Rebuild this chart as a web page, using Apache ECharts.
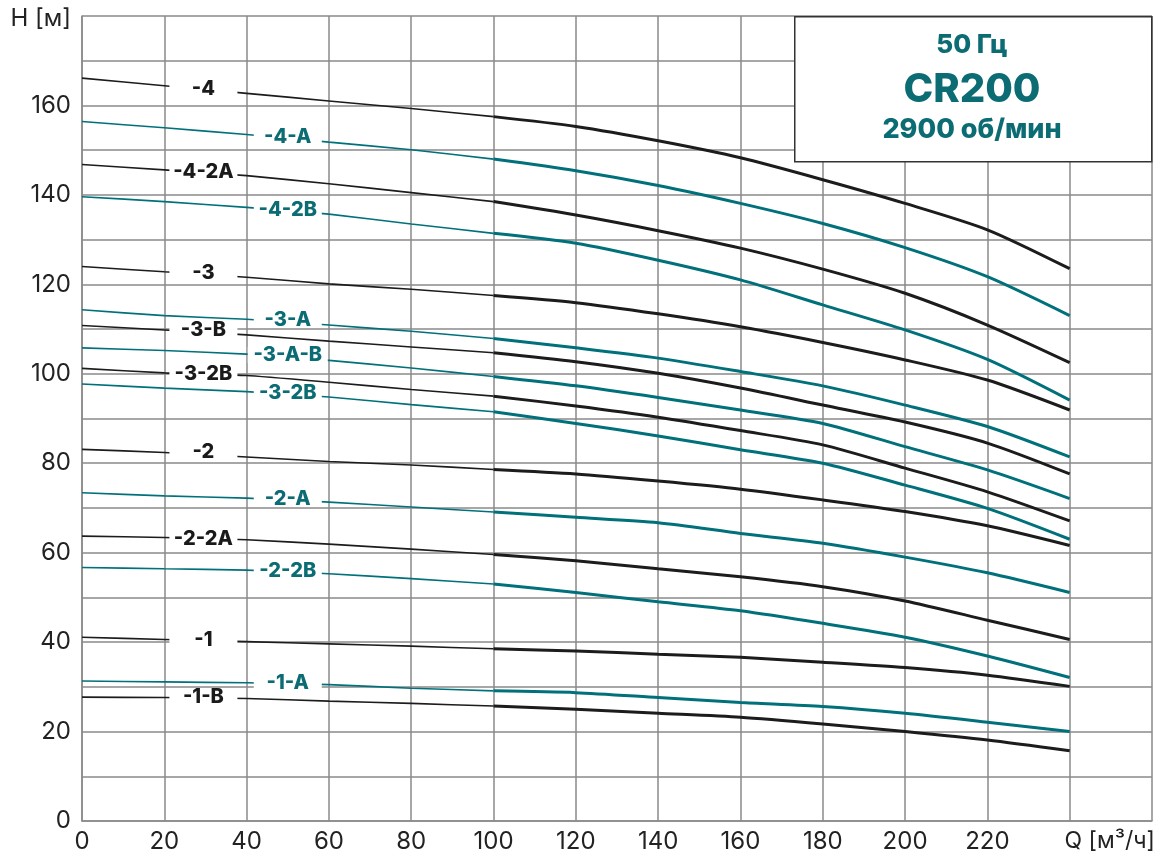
<!DOCTYPE html>
<html>
<head>
<meta charset="utf-8">
<script src="https://cdn.jsdelivr.net/npm/echarts@6/dist/echarts.min.js"></script>
<style>
html,body{margin:0;padding:0;background:#fff;}
#chart{width:1162px;height:858px;}
</style>
</head>
<body>
<div id="chart"></div>
<script>
// Flow points Q [m3/h]
const flowQ = [0, 20, 40, 60, 80, 100, 120, 140, 160, 180, 200, 220, 240];

// Curve names and colours group
const curveNames = ['-4','-4-A','-4-2A','-4-2B','-3','-3-A','-3-B','-3-A-B','-3-2B','-3-2B','-2','-2-A','-2-2A','-2-2B','-1','-1-A','-1-B'];
const curveGroup = ['black','teal','black','teal','black','teal','black','teal','black','teal','black','teal','black','teal','black','teal','black'];

// Head values H [m] at each flow point
const h_4     = [166.1, 164.4, 162.7, 161.0, 159.3, 157.5, 155.3, 152.1, 148.3, 143.4, 138.1, 132.2, 123.5];
const h_4A    = [156.4, 155.0, 153.5, 151.8, 150.1, 148.0, 145.4, 142.1, 138.1, 133.6, 128.2, 121.7, 113.0];
const h_42A   = [146.8, 145.6, 144.3, 142.5, 140.5, 138.5, 135.5, 132.0, 128.1, 123.4, 118.0, 110.9, 102.5];
const h_42B   = [139.6, 138.5, 137.2, 135.7, 133.5, 131.4, 129.2, 125.4, 121.0, 115.4, 109.8, 103.2, 94.1];
const h_3     = [124.0, 122.8, 121.6, 120.1, 118.9, 117.5, 115.9, 113.4, 110.5, 107.0, 103.1, 98.6, 91.9];
const h_3A    = [114.3, 113.0, 112.2, 110.9, 109.5, 107.9, 105.8, 103.5, 100.5, 97.3, 93.0, 88.2, 81.4];
const h_3B    = [110.8, 109.8, 108.7, 107.3, 106.0, 104.7, 102.7, 100.1, 96.8, 93.0, 89.2, 84.5, 77.6];
const h_3AB   = [105.8, 105.2, 104.4, 103.0, 101.3, 99.4, 97.3, 94.7, 91.9, 88.9, 83.7, 78.5, 72.1];
const h_32Bk  = [101.2, 100.2, 99.6, 98.1, 96.5, 95.0, 92.8, 90.3, 87.3, 84.1, 78.9, 73.6, 67.1];
const h_32Bt  = [97.7, 96.8, 96.0, 94.8, 93.1, 91.5, 88.9, 86.1, 83.0, 80.0, 75.1, 69.9, 63.0];
const h_2     = [83.1, 82.4, 81.4, 80.4, 79.6, 78.6, 77.6, 76.0, 74.2, 71.8, 69.2, 66.0, 61.6];
const h_2A    = [73.4, 72.7, 72.2, 71.3, 70.2, 69.1, 67.9, 66.7, 64.3, 62.1, 59.0, 55.5, 51.1];
const h_22A   = [63.7, 63.4, 62.9, 61.9, 60.8, 59.6, 58.2, 56.4, 54.6, 52.4, 49.2, 44.9, 40.6];
const h_22B   = [56.7, 56.4, 56.1, 55.3, 54.2, 53.0, 51.1, 49.0, 47.0, 44.2, 41.1, 36.9, 32.1];
const h_1     = [41.1, 40.6, 40.1, 39.6, 39.1, 38.5, 38.0, 37.3, 36.6, 35.5, 34.3, 32.6, 30.1];
const h_1A    = [31.3, 31.1, 30.9, 30.5, 29.7, 29.1, 28.7, 27.6, 26.5, 25.6, 24.1, 22.1, 20.0];
const h_1B    = [27.7, 27.6, 27.4, 26.8, 26.3, 25.7, 25.0, 24.1, 23.2, 21.7, 20.0, 18.1, 15.7];

const curveValues = [h_4, h_4A, h_42A, h_42B, h_3, h_3A, h_3B, h_3AB, h_32Bk, h_32Bt, h_2, h_2A, h_22A, h_22B, h_1, h_1A, h_1B];

// Curve label anchor points (Q, H) on each curve
const labelQ = [29.5, 50, 29.5, 50, 29.5, 50, 29.5, 50, 29.5, 50, 29.5, 50, 29.5, 50, 29.5, 50, 29.5];
const labelH = [163.7, 152.9, 145.1, 136.6, 122.5, 112.0, 109.8, 104.2, 100.0, 95.7, 82.5, 72.0, 63.1, 55.9, 40.5, 30.9, 27.7];

// Axis tick labels
const xTickNames = {240: 'Q [м³/ч]', 260: ''};
const yTickNames = {180: 'H [м]'};

// Title box texts
const titleLines = ['50 Гц', 'CR200', '2900 об/мин'];

const BLACK = '#1c1c1c';
const TEAL = '#00717b';
const TEAL_TEXT = '#0b6c74';
const FONT = 'Inter, Roboto, "DejaVu Sans", sans-serif';

const series = [];
curveValues.forEach((vals, i) => {
  const color = curveGroup[i] === 'black' ? BLACK : TEAL;
  const pts = flowQ.map((q, k) => [q, vals[k]]);
  series.push({
    type: 'line', name: curveNames[i] + '_thin' + i,
    data: pts.slice(0, 6), smooth: 0.15, showSymbol: false, symbol: 'none',
    lineStyle: {color: color, width: 1.6}, z: 3, silent: true
  });
  series.push({
    type: 'line', name: curveNames[i] + '_thick' + i,
    data: pts.slice(5), smooth: 0.25, showSymbol: false, symbol: 'none',
    lineStyle: {color: color, width: 3}, z: 4, silent: true
  });
});

function labelSeries(group) {
  const data = [];
  curveNames.forEach((n, i) => {
    if (curveGroup[i] !== group) return;
    const wide = n.length > 5;
    data.push({
      name: n, value: [labelQ[i], labelH[i]],
      label: {width: wide ? 80 : 68}
    });
  });
  return {
    type: 'scatter', name: 'labels_' + group, data: data, symbolSize: 2,
    itemStyle: {color: 'rgba(255,255,255,0)', opacity: 1},
    z: 10, silent: true,
    label: {
      show: true, position: 'inside', formatter: '{b}', opacity: 1,
      color: group === 'black' ? '#1a1a1a' : TEAL_TEXT,
      fontFamily: FONT, fontWeight: 800, fontSize: 20,
      backgroundColor: '#ffffff', align: 'center', verticalAlign: 'middle',
      lineHeight: 16, height: 16, padding: [0, 0]
    },
    emphasis: {disabled: true},
    labelLayout: {hideOverlap: false}
  };
}
series.push(labelSeries('black'));
series.push(labelSeries('teal'));

const chart = echarts.init(document.getElementById('chart'), null, {renderer: 'canvas'});
chart.setOption({
  animation: false,
  backgroundColor: '#fff',
  grid: {left: 82, right: 10, top: 16, bottom: 37, containLabel: false},
  xAxis: {
    type: 'value', min: 0, max: 260, interval: 20,
    axisLine: {show: true, lineStyle: {color: '#8a8a8a', width: 1.5}},
    axisTick: {show: false},
    splitLine: {show: true, lineStyle: {color: '#8a8a8a', width: 1.5}},
    axisLabel: {
      color: '#222', fontFamily: FONT, fontSize: 24, margin: 9,
      showMaxLabel: true,
      formatter: v => (v in xTickNames ? (xTickNames[v] ? '{q|' + xTickNames[v] + '}' : '') : String(v)),
      rich: {q: {fontFamily: FONT, fontSize: 23, color: '#222', padding: [0, 0, 0, 80]}}
    }
  },
  yAxis: {
    type: 'value', min: 0, max: 180, interval: 10,
    axisLine: {show: true, lineStyle: {color: '#8a8a8a', width: 1.5}},
    axisTick: {show: false},
    splitLine: {show: true, lineStyle: {color: '#8a8a8a', width: 1.5}},
    axisLabel: {
      color: '#222', fontFamily: FONT, fontSize: 24, margin: 11,
      showMaxLabel: true,
      formatter: v => (v in yTickNames ? '{h|' + yTickNames[v] + '}' : (v % 20 === 0 ? String(v) : '')),
      rich: {h: {fontFamily: FONT, fontSize: 24, color: '#222', padding: [6, 0, 0, 0]}}
    }
  },
  graphic: [
    {type: 'rect', left: 794, top: 16, z: 100,
     shape: {width: 357, height: 145},
     style: {fill: '#fff', stroke: '#333', lineWidth: 1.5}},
    {type: 'text', x: 972, y: 45, z: 101,
     style: {text: titleLines[0], fill: TEAL_TEXT, font: '800 26px ' + FONT, textAlign: 'center', textVerticalAlign: 'middle'}},
    {type: 'text', x: 972, y: 90, z: 101,
     style: {text: titleLines[1], fill: TEAL_TEXT, font: '800 40px ' + FONT, textAlign: 'center', textVerticalAlign: 'middle'}},
    {type: 'text', x: 972, y: 130, z: 101,
     style: {text: titleLines[2], fill: TEAL_TEXT, font: '800 27px ' + FONT, textAlign: 'center', textVerticalAlign: 'middle'}}
  ],
  series: series
});
</script>
</body>
</html>
